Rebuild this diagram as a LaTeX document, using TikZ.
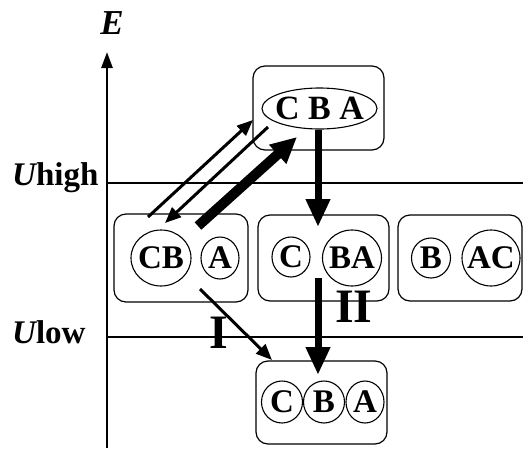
\documentclass[tikz,border=0pt]{standalone}
\usepackage{fontspec}
\setmainfont{Liberation Serif}
\usetikzlibrary{arrows.meta,shapes.geometric}
\begin{document}
\begin{tikzpicture}[x=1pt,y=-1pt,
  box/.style={draw, line width=1.2pt, rounded corners=12pt, inner sep=0pt},
  ring/.style={draw, ellipse, line width=1.1pt, inner sep=0pt},
  ringtext/.style={inner sep=0pt, font=\fontsize{33}{33}\selectfont\bfseries},
  thinarrow/.style={line width=3pt, -{Triangle[length=16pt,width=13pt]}},
  thickarrow/.style={line width=10pt, -{Triangle[length=26pt,width=24pt]}},
  vertarrow/.style={line width=7pt, -{Triangle[length=28pt,width=23pt]}},
  level/.style={line width=1.2pt},
  lbl/.style={font=\fontsize{33}{33}\selectfont\bfseries, inner sep=0pt},
  roman/.style={font=\fontsize{48}{48}\selectfont\bfseries, inner sep=0pt}
]
\useasboundingbox (0,0) rectangle (523,448);

% axis and levels
\coordinate (axb) at (107,448);
\coordinate (axt) at (107,52);
\draw[line width=2.5pt, -{Triangle[length=16pt,width=11pt]}] (axb) -- (axt);
\coordinate (hl) at (107,183);
\coordinate (hr) at (523,183);
\coordinate (ll) at (107,337);
\coordinate (lr) at (523,337);
\draw[level] (hl) -- (hr);
\draw[level] (ll) -- (lr);

\node[inner sep=0pt, font=\fontsize{35}{35}\selectfont\bfseries\itshape] (E) at (112,23) {E};
\node[lbl, anchor=base west] (uh) at (12,185) {\itshape U\upshape high};
\node[lbl, anchor=base west] (ul) at (12,343) {\itshape U\upshape low};

% boxes
\node[box, minimum width=131pt, minimum height=84pt] (top) at (318.5,108) {};
\node[box, minimum width=134pt, minimum height=88pt] (b1) at (181,258) {};
\node[box, minimum width=131pt, minimum height=86pt] (b2) at (323.5,258) {};
\node[box, minimum width=124pt, minimum height=86pt] (b3) at (460,258) {};
\node[box, minimum width=131pt, minimum height=83pt] (bot) at (321.5,402.5) {};

% clusters
\node[ring, minimum width=115pt, minimum height=41pt] (cba) at (319.5,108.5) {};
\node[ringtext, font=\fontsize{34}{34}\selectfont\bfseries] at (cba) {C B A};
\node[ring, minimum width=60pt, minimum height=56pt] (cb) at (161,258) {};
\node[ringtext] at (cb) {CB};
\node[ring, minimum width=38pt, minimum height=42pt] (a1) at (220,258) {};
\node[ringtext] at (a1) {A};
\node[ring, minimum width=38pt, minimum height=40pt] (c2) at (291,257) {};
\node[ringtext] at (c2) {C};
\node[ring, minimum width=59pt, minimum height=56pt] (ba) at (352,258) {};
\node[ringtext] at (ba) {BA};
\node[ring, minimum width=39pt, minimum height=40pt] (b3b) at (431,258) {};
\node[ringtext] at (b3b) {B};
\node[ring, minimum width=58pt, minimum height=56pt] (ac) at (491,258) {};
\node[ringtext] at (ac) {AC};
\node[ring, minimum width=41pt, minimum height=42pt] (c4) at (282,402) {};
\node[ringtext] at (c4) {C};
\node[ring, minimum width=41pt, minimum height=42pt] (b4) at (324,402) {};
\node[ringtext] at (b4) {B};
\node[ring, minimum width=38pt, minimum height=42pt] (a4) at (365,402) {};
\node[ringtext] at (a4) {A};

% arrows
\coordinate (up1s) at (148,217);
\coordinate (up1e) at (253,120);
\coordinate (dn1s) at (268,127);
\coordinate (dn1e) at (165,223);
\coordinate (thks) at (198,226);
\coordinate (thke) at (297,137);
\coordinate (v1s) at (318,130);
\coordinate (v1e) at (318,227);
\coordinate (v2s) at (318,278);
\coordinate (v2e) at (318,375);
\coordinate (is) at (200,289);
\coordinate (ie) at (272,360);

\draw[thinarrow] (up1s) -- (up1e);
\draw[thinarrow] (dn1s) -- (dn1e);
\draw[thickarrow] (thks) -- (thke);
\draw[vertarrow] (v1s) -- (v1e);
\draw[vertarrow] (v2s) -- (v2e);
\draw[thinarrow] (is) -- (ie);

\node[roman] (lI) at (219,333) {I};
\node[roman] (lII) at (354,307) {II};
\end{tikzpicture}
\end{document}
